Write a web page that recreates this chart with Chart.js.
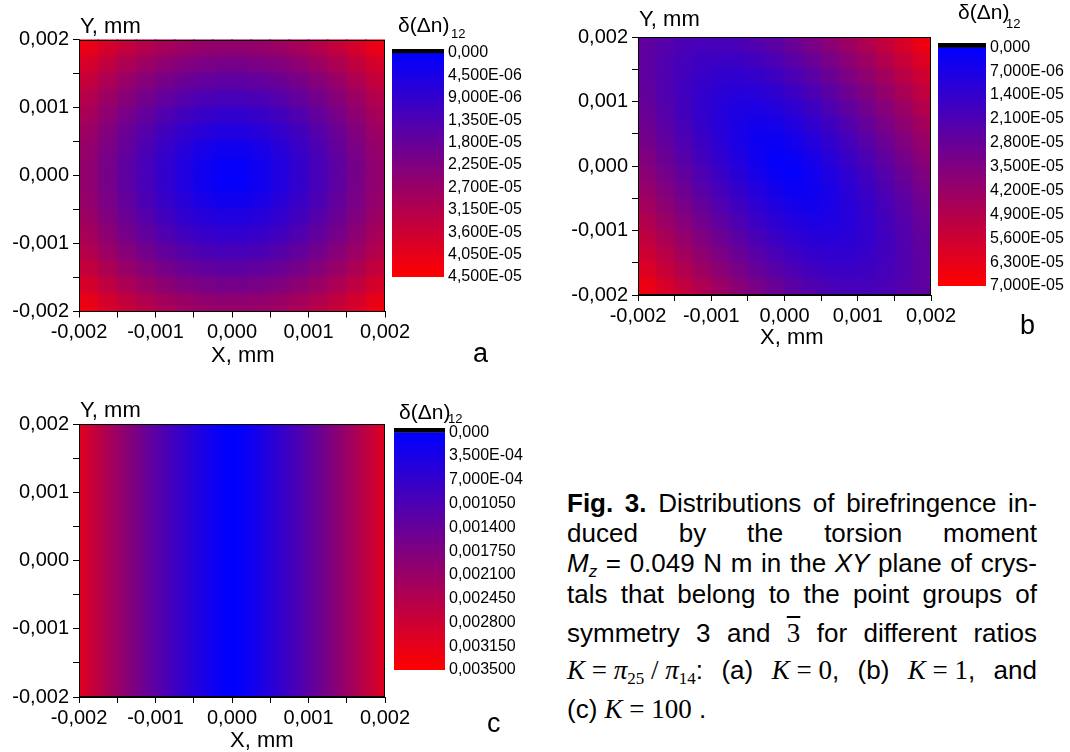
<!DOCTYPE html>
<html>
<head>
<meta charset="utf-8">
<script src="https://cdn.jsdelivr.net/npm/chart.js@4.4.1/dist/chart.umd.min.js"></script>
<style>
  html, body { margin: 0; padding: 0; background: #fff; }
  body { position: relative; width: 1070px; height: 752px; overflow: hidden;
         font-family: "Liberation Sans", Arial, sans-serif; color: #000; }
  canvas { position: absolute; }
  .t { position: absolute; white-space: nowrap; line-height: 1; }
  .ax { font-size: 22px; }
  .cbt { font-size: 21px; }
  .cbs { font-size: 13px; }
  .pl { font-size: 27px; }
  .cap { position: absolute; left: 567px; width: 470px; font-size: 26px; line-height: 1;
         text-align: justify; text-align-last: justify; }
  .m { font-family: "Liberation Serif", "Times New Roman", serif; font-size: 27px; display: inline-block; }
  .m sub { font-size: 17px; vertical-align: -5px; line-height: 0; }
</style>
</head>
<body>
<canvas id="hmA" width="420" height="372" style="left:0;top:0"></canvas>
<canvas id="cbA" width="160" height="300" style="left:385px;top:0"></canvas>
<canvas id="hmB" width="420" height="360" style="left:540px;top:0"></canvas>
<canvas id="cbB" width="140" height="305" style="left:930px;top:0"></canvas>
<canvas id="hmC" width="420" height="372" style="left:0;top:380px"></canvas>
<canvas id="cbC" width="160" height="310" style="left:385px;top:380px"></canvas>

<div class="t ax" style="left:80px;top:15px">Y, mm</div>
<div class="t ax" style="left:211px;top:344px">X, mm</div>
<div class="t cbt" style="left:398px;top:14px">δ(Δn)</div>
<div class="t cbs" style="left:451px;top:27px">12</div>
<div class="t pl" style="left:473px;top:340px">a</div>

<div class="t ax" style="left:639px;top:8px">Y, mm</div>
<div class="t ax" style="left:760px;top:326px">X, mm</div>
<div class="t cbt" style="left:958px;top:1px">δ(Δn)</div>
<div class="t cbs" style="left:1006px;top:17px">12</div>
<div class="t pl" style="left:1020px;top:312px">b</div>

<div class="t ax" style="left:80px;top:399px">Y, mm</div>
<div class="t ax" style="left:230px;top:729px">X, mm</div>
<div class="t cbt" style="left:399px;top:401px">δ(Δn)</div>
<div class="t cbs" style="left:448px;top:412px">12</div>
<div class="t pl" style="left:487px;top:710px">c</div>

<div class="cap" style="top:490px"><b>Fig. 3.</b> Distributions of birefringence in-</div>
<div class="cap" style="top:520px">duced by the torsion moment</div>
<div class="cap" style="top:550px"><i>M<sub style="font-size:17px;vertical-align:-5px;line-height:0">z</sub></i> = 0.049 N m in the <i>XY</i> plane of crys-</div>
<div class="cap" style="top:581px">tals that belong to the point groups of</div>
<div class="cap" style="top:620px">symmetry 3 and <span class="m" style="text-decoration:overline">3</span> for different ratios</div>
<div class="cap" style="top:657px"><span class="m"><i>K</i> = <i>π</i><sub>25</sub> / <i>π</i><sub>14</sub></span>: (a) <span class="m"><i>K</i> = 0</span>, (b) <span class="m"><i>K</i> = 1</span>, and</div>
<div class="cap" style="top:696px;text-align-last:left">(c) <span class="m"><i>K</i> = 100</span> .</div>

<script>
Chart.defaults.font.family = '"Liberation Sans", Arial, sans-serif';
Chart.defaults.color = '#000';

// axis ticks shared by all three maps (mm)
const axisTicks = [-0.002, -0.0015, -0.001, -0.0005, 0, 0.0005, 0.001, 0.0015, 0.002];
const axisTickLabels = ['-0,002', '', '-0,001', '', '0,000', '', '0,001', '', '0,002'];

// cell centres for maps a and b (16 x 16), rows listed from top to bottom
const gridX = [-0.001875, -0.001625, -0.001375, -0.001125, -0.000875, -0.000625, -0.000375, -0.000125,
               0.000125, 0.000375, 0.000625, 0.000875, 0.001125, 0.001375, 0.001625, 0.001875];
const gridY = [0.001875, 0.001625, 0.001375, 0.001125, 0.000875, 0.000625, 0.000375, 0.000125,
               -0.000125, -0.000375, -0.000625, -0.000875, -0.001125, -0.001375, -0.001625, -0.001875];
// column centres for map c (32 columns, value depends on X only)
const gridXc = [-0.0019375, -0.0018125, -0.0016875, -0.0015625, -0.0014375, -0.0013125, -0.0011875, -0.0010625,
                -0.0009375, -0.0008125, -0.0006875, -0.0005625, -0.0004375, -0.0003125, -0.0001875, -0.0000625,
                0.0000625, 0.0001875, 0.0003125, 0.0004375, 0.0005625, 0.0006875, 0.0008125, 0.0009375,
                0.0010625, 0.0011875, 0.0013125, 0.0014375, 0.0015625, 0.0016875, 0.0018125, 0.0019375];

// (a) K = 0, values in 1e-6
const mapA = [
  [41.2,37.5,34.2,31.4,29.1,27.3,26.0,25.4,25.4,26.0,27.3,29.1,31.4,34.2,37.5,41.2],
  [37.5,33.7,30.3,27.3,24.8,22.8,21.5,20.8,20.8,21.5,22.8,24.8,27.3,30.3,33.7,37.5],
  [34.2,30.3,26.7,23.5,20.8,18.7,17.3,16.5,16.5,17.3,18.7,20.8,23.5,26.7,30.3,34.2],
  [31.4,27.3,23.5,20.1,17.3,15.0,13.3,12.5,12.5,13.3,15.0,17.3,20.1,23.5,27.3,31.4],
  [29.1,24.8,20.8,17.3,14.2,11.6,9.8,8.8,8.8,9.8,11.6,14.2,17.3,20.8,24.8,29.1],
  [27.3,22.8,18.7,15.0,11.6,8.8,6.8,5.6,5.6,6.8,8.8,11.6,15.0,18.7,22.8,27.3],
  [26.0,21.5,17.3,13.3,9.8,6.8,4.3,2.9,2.9,4.3,6.8,9.8,13.3,17.3,21.5,26.0],
  [25.4,20.8,16.5,12.5,8.8,5.6,2.9,0.9,0.9,2.9,5.6,8.8,12.5,16.5,20.8,25.4],
  [25.4,20.8,16.5,12.5,8.8,5.6,2.9,0.9,0.9,2.9,5.6,8.8,12.5,16.5,20.8,25.4],
  [26.0,21.5,17.3,13.3,9.8,6.8,4.3,2.9,2.9,4.3,6.8,9.8,13.3,17.3,21.5,26.0],
  [27.3,22.8,18.7,15.0,11.6,8.8,6.8,5.6,5.6,6.8,8.8,11.6,15.0,18.7,22.8,27.3],
  [29.1,24.8,20.8,17.3,14.2,11.6,9.8,8.8,8.8,9.8,11.6,14.2,17.3,20.8,24.8,29.1],
  [31.4,27.3,23.5,20.1,17.3,15.0,13.3,12.5,12.5,13.3,15.0,17.3,20.1,23.5,27.3,31.4],
  [34.2,30.3,26.7,23.5,20.8,18.7,17.3,16.5,16.5,17.3,18.7,20.8,23.5,26.7,30.3,34.2],
  [37.5,33.7,30.3,27.3,24.8,22.8,21.5,20.8,20.8,21.5,22.8,24.8,27.3,30.3,33.7,37.5],
  [41.2,37.5,34.2,31.4,29.1,27.3,26.0,25.4,25.4,26.0,27.3,29.1,31.4,34.2,37.5,41.2]
];
const levelsA = [0, 4.5e-6, 9e-6, 1.35e-5, 1.8e-5, 2.25e-5, 2.7e-5, 3.15e-5, 3.6e-5, 4.05e-5, 4.5e-5];
const levelLabelsA = ['0,000', '4,500E-06', '9,000E-06', '1,350E-05', '1,800E-05', '2,250E-05',
                      '2,700E-05', '3,150E-05', '3,600E-05', '4,050E-05', '4,500E-05'];

// (b) K = 1, values in 1e-6
const mapB = [
  [26.2,23.0,20.6,19.3,19.1,20.1,22.2,25.0,28.8,32.9,37.5,42.5,47.8,53.3,58.9,64.8],
  [25.8,22.0,19.0,17.0,16.1,16.5,18.2,20.9,24.4,28.6,33.2,38.2,43.4,48.8,54.6,60.5],
  [26.0,21.6,18.1,15.2,13.4,13.2,14.4,16.9,20.3,24.3,29.0,34.0,39.2,44.6,50.4,56.2],
  [26.8,22.1,17.7,14.1,11.5,10.3,10.9,13.0,16.3,20.3,24.9,29.9,35.1,40.6,46.3,52.2],
  [28.1,23.0,18.3,14.0,10.4,8.2,7.8,9.4,12.4,16.4,21.0,26.0,31.2,36.8,42.4,48.3],
  [29.9,24.5,19.4,14.7,10.4,7.0,5.1,5.9,8.8,12.8,17.3,22.3,27.6,33.0,38.7,44.5],
  [32.2,26.7,21.3,16.2,11.5,7.2,3.7,2.9,5.5,9.4,14.0,18.9,24.1,29.6,35.2,41.0],
  [34.8,29.2,23.6,18.4,13.3,8.6,4.3,1.0,2.4,6.4,11.0,15.9,21.0,26.5,32.0,37.8],
  [37.8,32.0,26.5,21.0,15.9,11.0,6.4,2.4,1.0,4.3,8.6,13.3,18.4,23.6,29.2,34.8],
  [41.0,35.2,29.6,24.1,18.9,14.0,9.4,5.5,2.9,3.7,7.2,11.5,16.2,21.3,26.7,32.2],
  [44.5,38.7,33.0,27.6,22.3,17.3,12.8,8.8,5.9,5.1,7.0,10.4,14.7,19.4,24.5,29.9],
  [48.3,42.4,36.8,31.2,26.0,21.0,16.4,12.4,9.4,7.8,8.2,10.4,14.0,18.3,23.0,28.1],
  [52.2,46.3,40.6,35.1,29.9,24.9,20.3,16.3,13.0,10.9,10.3,11.5,14.1,17.7,22.1,26.8],
  [56.2,50.4,44.6,39.2,34.0,29.0,24.3,20.3,16.9,14.4,13.2,13.4,15.2,18.1,21.6,26.0],
  [60.5,54.6,48.8,43.4,38.2,33.2,28.6,24.4,20.9,18.2,16.5,16.1,17.0,19.0,22.0,25.8],
  [64.8,58.9,53.3,47.8,42.5,37.5,32.9,28.8,25.0,22.2,20.1,19.1,19.3,20.6,23.0,26.2]
];
const levelsB = [0, 7e-6, 1.4e-5, 2.1e-5, 2.8e-5, 3.5e-5, 4.2e-5, 4.9e-5, 5.6e-5, 6.3e-5, 7e-5];
const levelLabelsB = ['0,000', '7,000E-06', '1,400E-05', '2,100E-05', '2,800E-05', '3,500E-05',
                      '4,200E-05', '4,900E-05', '5,600E-05', '6,300E-05', '7,000E-05'];

// (c) K = 100, values in 1e-3, one value per column
const mapC = [[2.96, 2.71, 2.47, 2.23, 2.01, 1.78, 1.56, 1.35, 1.15, 0.96, 0.77, 0.59, 0.43, 0.28, 0.14, 0.03,
               0.03, 0.14, 0.28, 0.43, 0.59, 0.77, 0.96, 1.15, 1.35, 1.56, 1.78, 2.01, 2.23, 2.47, 2.71, 2.96]];
const levelsC = [0, 3.5e-4, 7e-4, 0.00105, 0.0014, 0.00175, 0.0021, 0.00245, 0.0028, 0.00315, 0.0035];
const levelLabelsC = ['0,000', '3,500E-04', '7,000E-04', '0,001050', '0,001400', '0,001750',
                      '0,002100', '0,002450', '0,002800', '0,003150', '0,003500'];

// blue -> red palette
function mapColor(t, alpha) {
  t = Math.max(0, Math.min(1, t));
  const a = alpha === undefined ? 1 : alpha;
  return 'rgba(' + Math.round(255 * t) + ',0,' + Math.round(255 * (1 - t)) + ',' + a + ')';
}

// value at the shared edge of two neighbouring cells (half step outwards at the border)
function edgeValue(cur, nb, other) {
  if (nb !== undefined) return (cur + nb) / 2;
  if (other !== undefined) return Math.max(0, cur + (cur - other) / 2);
  return cur;
}

function buildCells(xs, ys, rows, unit, halfH) {
  const halfW = (xs[1] - xs[0]) / 2;
  const out = [];
  rows.forEach((row, j) => {
    const up = rows[j - 1], down = rows[j + 1];
    row.forEach((val, i) => {
      out.push({
        x: xs[i], y: [ys[j] - halfH, ys[j] + halfH], hw: halfW,
        v: val * unit,
        vl: edgeValue(val, row[i - 1], row[i + 1]) * unit,
        vr: edgeValue(val, row[i + 1], row[i - 1]) * unit,
        vt: edgeValue(val, up && up[i], down && down[i]) * unit,
        vb: edgeValue(val, down && down[i], up && up[i]) * unit
      });
    });
  });
  return out;
}

const framePlugin = {
  id: 'frame',
  afterDatasetsDraw(chart) {
    const a = chart.chartArea, c = chart.ctx;
    c.save();
    c.strokeStyle = '#000';
    c.lineWidth = 1;
    c.strokeRect(Math.round(a.left) + 0.5, Math.round(a.top) + 0.5,
                 Math.round(a.right - a.left) - 1, Math.round(a.bottom - a.top) - 1);
    c.restore();
  }
};

function axisOpts(dir, size) {
  return {
    type: 'linear',
    min: axisTicks[0],
    max: axisTicks[axisTicks.length - 1],
    offset: false,
    afterBuildTicks: s => { s.ticks = axisTicks.map(v => ({value: v})); },
    afterFit: s => { if (dir === 'x') s.height = size; else s.width = size; },
    ticks: {
      autoSkip: false, maxRotation: 0, padding: dir === 'x' ? 3 : 4,
      font: {size: 20}, color: '#000',
      callback: (v, i) => axisTickLabels[i]
    },
    grid: {drawOnChartArea: false, drawTicks: true, tickLength: 6, tickColor: '#000', offset: false},
    border: {display: true, color: '#000', width: 1}
  };
}

// shading of one cell across x (horizontal) or y (vertical)
function cellShade(vmax, vertical, alpha) {
  return c => {
    const r = c.raw;
    if (!r || r.v === undefined) return mapColor(0.5, alpha);
    const ch = c.chart;
    const sc = vertical ? ch.scales.y : ch.scales.x;
    if (!sc || !ch.chartArea) return mapColor(r.v / vmax, alpha);
    const p0 = vertical ? sc.getPixelForValue(r.y[1]) : sc.getPixelForValue(r.x - r.hw);
    const p1 = vertical ? sc.getPixelForValue(r.y[0]) : sc.getPixelForValue(r.x + r.hw);
    if (!isFinite(p0) || !isFinite(p1) || p0 === p1) return mapColor(r.v / vmax, alpha);
    const g = vertical ? ch.ctx.createLinearGradient(0, p0, 0, p1) : ch.ctx.createLinearGradient(p0, 0, p1, 0);
    g.addColorStop(0, mapColor((vertical ? r.vt : r.vl) / vmax, alpha));
    g.addColorStop(0.5, mapColor(r.v / vmax, alpha));
    g.addColorStop(1, mapColor((vertical ? r.vb : r.vr) / vmax, alpha));
    return g;
  };
}

function heatmap(id, cells, vmax, box, twoWay) {
  const datasets = [];
  if (twoWay) {
    datasets.push({
      data: cells, backgroundColor: cellShade(vmax, true, 0.5),
      borderWidth: 0, inflateAmount: 0, barPercentage: 1, categoryPercentage: 1, grouped: false, clip: 0
    });
  }
  datasets.push({
    data: cells, backgroundColor: cellShade(vmax, false, 1),
    borderWidth: 0, inflateAmount: 1, barPercentage: 1, categoryPercentage: 1, grouped: false, clip: 0
  });
  return new Chart(document.getElementById(id), {
    type: 'bar',
    data: {datasets: datasets},
    options: {
      responsive: false,
      animation: false,
      events: [],
      layout: {padding: {left: 0, top: box.top, right: box.right, bottom: 0}},
      plugins: {legend: {display: false}, tooltip: {enabled: false}},
      scales: {x: axisOpts('x', box.xh), y: axisOpts('y', box.yw)}
    },
    plugins: [framePlugin]
  });
}

function colorbar(id, levels, labels, box) {
  const vmax = levels[levels.length - 1];
  const band = vmax * 0.018;   // thin black strip above zero
  return new Chart(document.getElementById(id), {
    type: 'bar',
    data: {
      labels: [''],
      datasets: [{
        data: [[-band, levels[0]]],
        backgroundColor: '#000',
        borderWidth: 0,
        barPercentage: 1, categoryPercentage: 1, grouped: false
      }, {
        data: [[levels[0], vmax]],
        backgroundColor: c => {
          const ch = c.chart, ys = ch.scales.y;
          if (!ch.chartArea || !ys) return mapColor(0.5);
          const p0 = ys.getPixelForValue(levels[0]), p1 = ys.getPixelForValue(vmax);
          if (!isFinite(p0) || !isFinite(p1) || p0 === p1) return mapColor(0.5);
          const g = ch.ctx.createLinearGradient(0, p0, 0, p1);
          levels.forEach(v => g.addColorStop(v / vmax, mapColor(v / vmax)));
          return g;
        },
        borderWidth: 0,
        inflateAmount: 0,
        barPercentage: 1, categoryPercentage: 1, grouped: false
      }]
    },
    options: {
      responsive: false,
      animation: false,
      events: [],
      layout: {padding: {left: box.left, top: box.top, right: 0, bottom: box.bottom}},
      plugins: {legend: {display: false}, tooltip: {enabled: false}},
      scales: {
        x: {display: false},
        y: {
          position: 'right', reverse: true, min: -band, max: vmax,
          afterBuildTicks: s => { s.ticks = levels.map(v => ({value: v})); },
          afterFit: s => { s.width = box.yw; },
          ticks: {autoSkip: false, padding: 4, font: {size: 16}, color: '#000', callback: (v, i) => labels[i]},
          grid: {display: false, drawTicks: false},
          border: {display: false}
        }
      }
    }
  });
}

const cellHalf = (gridY[0] - gridY[1]) / 2;
const fullHalf = axisTicks[axisTicks.length - 1];

heatmap('hmA', buildCells(gridX, gridY, mapA, 1e-6, cellHalf), levelsA[levelsA.length - 1],
        {top: 39.5, right: 35, yw: 79, xh: 60.5}, true);
colorbar('cbA', levelsA, levelLabelsA, {left: 7, top: 49, bottom: 23, yw: 101});

heatmap('hmB', buildCells(gridX, gridY, mapB, 1e-6, cellHalf), levelsB[levelsB.length - 1],
        {top: 37, right: 29, yw: 98, xh: 65}, true);
colorbar('cbB', levelsB, levelLabelsB, {left: 8, top: 43, bottom: 19, yw: 84});

heatmap('hmC', buildCells(gridXc, [0], mapC, 1e-3, fullHalf), levelsC[levelsC.length - 1],
        {top: 44, right: 35, yw: 79, xh: 55}, false);
colorbar('cbC', levelsC, levelLabelsC, {left: 9, top: 48, bottom: 20, yw: 100});
</script>
</body>
</html>
